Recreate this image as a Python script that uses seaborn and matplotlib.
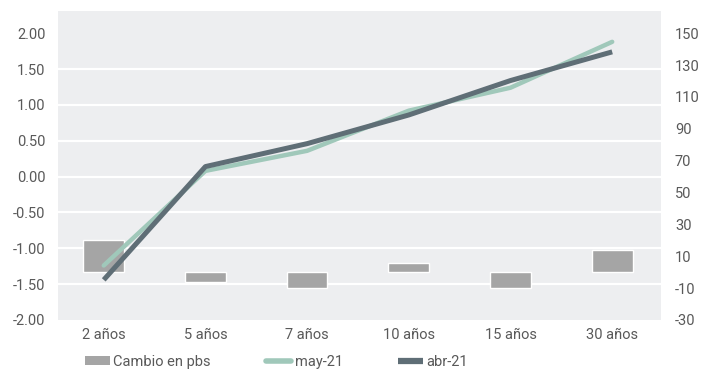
import numpy as np
import pandas as pd
import matplotlib.pyplot as plt
import seaborn as sns
from matplotlib.patches import Patch
from matplotlib.lines import Line2D

# Datos
plazos = ["2 años", "5 años", "7 años", "10 años", "15 años", "30 años"]
may_21 = [-1.24, 0.08, 0.36, 0.92, 1.24, 1.88]
abr_21 = [-1.44, 0.14, 0.46, 0.86, 1.34, 1.74]
cambio_pbs = [20, -6, -10, 6, -10, 14]

left_ticks = np.arange(-2.0, 2.01, 0.5)
right_ticks = list(range(-30, 151, 20))

sns.set_theme(style="white")
plt.rcParams['font.family'] = ['Roboto', 'DejaVu Sans']

C_BAR = "#A5A5A5"
C_MAY = "#A0C8BA"
C_ABR = "#5F6E76"
C_TXT = "#595959"
C_BG = "#EDEEF0"
FS = 10.5


def to_right(v):
    # left axis (-2..2) -> right axis (-30..150)
    return -30 + (v + 2) * 45


def main():
    df = pd.DataFrame({"plazo": plazos, "may-21": may_21,
                       "abr-21": abr_21, "cambio": cambio_pbs})

    fig = plt.figure(figsize=(7.02, 3.73), dpi=100)
    ax = fig.add_axes([0.0826, 0.1421, 0.8590, 0.8284])
    ax2 = ax.twinx()

    # bars on the right axis, behind the lines
    sns.barplot(data=df, x="plazo", y="cambio", ax=ax2, color=C_BAR,
                width=0.4, saturation=1, zorder=2)
    sns.pointplot(data=df, x="plazo", y="may-21", ax=ax, color=C_MAY,
                  marker="", linewidth=3.2, errorbar=None,
                  solid_capstyle="round")
    sns.pointplot(data=df, x="plazo", y="abr-21", ax=ax, color=C_ABR,
                  marker="", linewidth=3.6, errorbar=None,
                  solid_capstyle="butt")

    ax.set_zorder(2)
    ax2.set_zorder(1)
    ax.patch.set_visible(False)
    ax2.patch.set_visible(True)
    ax2.set_facecolor(C_BG)

    ax.set_xlim(-0.45, 5.48)
    ax.set_ylim(-2, 2.31)
    ax2.set_ylim(to_right(-2), to_right(2.31))

    ax.set_yticks(left_ticks)
    ax.set_yticklabels([f"{v:.2f}" for v in left_ticks])
    ax2.set_yticks(right_ticks)
    ax2.set_yticklabels([str(v) for v in right_ticks])

    # white gridlines at the left ticks, drawn below the bars
    ax2.set_yticks([to_right(v) for v in left_ticks], minor=True)
    ax2.set_axisbelow(True)
    ax2.grid(which="minor", axis="y", color="white", linewidth=1.6)
    ax2.grid(which="major", visible=False)
    ax.grid(False)

    ax.set_xlabel("")
    ax.set_ylabel("")
    ax2.set_xlabel("")
    ax2.set_ylabel("")
    ax.tick_params(axis="y", length=0, pad=9, labelsize=FS, labelcolor=C_TXT)
    ax.tick_params(axis="x", length=0, pad=6, labelsize=FS, labelcolor=C_TXT)
    ax2.tick_params(axis="y", which="both", length=0, pad=10, labelsize=FS,
                    labelcolor=C_TXT)
    ax2.tick_params(axis="x", length=0)
    for a in (ax, ax2):
        for s in a.spines.values():
            s.set_visible(False)

    handles = [Patch(facecolor=C_BAR, edgecolor="none"),
               Line2D([], [], color=C_MAY, lw=4, solid_capstyle="round"),
               Line2D([], [], color=C_ABR, lw=4.5, solid_capstyle="butt")]
    labels = ["Cambio en pbs", "may-21", "abr-21"]
    fig.legend(handles, labels, loc="center", bbox_to_anchor=(0.394, 0.03),
               ncol=3, frameon=False, fontsize=FS, labelcolor=C_TXT,
               handlelength=1.7, handleheight=0.5, handletextpad=0.25,
               columnspacing=3.8)

    fig.savefig("out.png", dpi=100)


if __name__ == "__main__":
    main()
